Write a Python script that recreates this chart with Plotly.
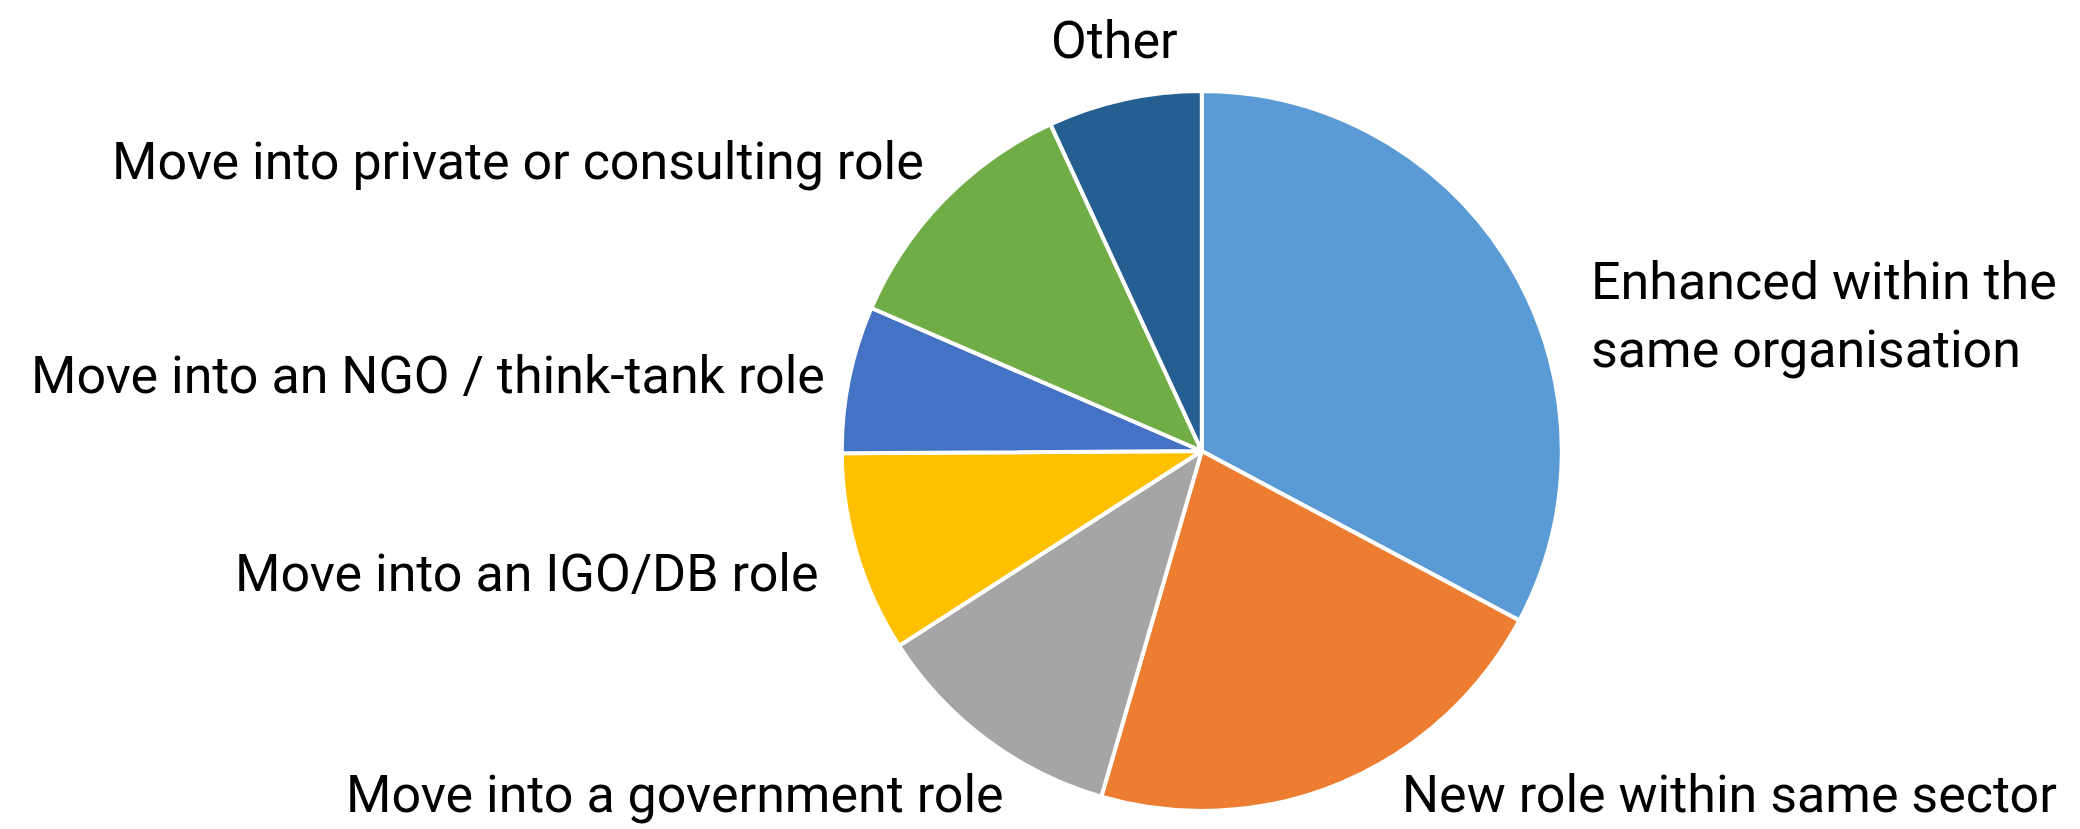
import plotly.graph_objects as go

# Share of respondents by career outcome (%)
LABELS = [
    "Enhanced within the<br>same organisation",
    "New role within same sector",
    "Move into a government role",
    "Move into an IGO/DB role",
    "Move into an NGO / think-tank role",
    "Move into private or consulting role",
    "Other",
]
VALUES = [32.8, 21.7, 11.4, 9.0, 6.6, 11.6, 6.9]
COLORS = ["#5B9BD5", "#ED7D31", "#A5A5A5", "#FFC000", "#4472C4", "#70AD47", "#255E91"]

# Where each category label sits around the pie (paper coords + anchor),
# mimicking the original spreadsheet "best fit" placement
LABEL_SPOTS = [
    (0.7631, 0.6252, "left"),
    (0.6716, 0.0426, "left"),
    (0.4815, 0.0426, "right"),
    (0.3925, 0.3117, "right"),
    (0.3951, 0.5525, "right"),
    (0.4431, 0.8127, "right"),
    (0.5339, 0.9600, "center"),
]

fig = go.Figure(
    go.Pie(
        labels=LABELS,
        values=VALUES,
        sort=False,
        direction="clockwise",
        rotation=0,
        marker={"colors": COLORS, "line": {"color": "white", "width": 4}},
        textinfo="none",
        showlegend=False,
        domain={"x": [0.4024, 0.7499], "y": [0.0219, 0.8989]},
        hoverinfo="label+percent",
    )
)

for label, (x, y, anchor) in zip(LABELS, LABEL_SPOTS):
    fig.add_annotation(
        text=label,
        x=x,
        y=y,
        xref="paper",
        yref="paper",
        xanchor=anchor,
        yanchor="middle",
        align="left",
        showarrow=False,
        font={"family": "Roboto", "size": 52, "color": "black"},
    )

# page body has an 8px margin, so the figure is 8px smaller than the window
fig.update_layout(
    width=2072,
    height=821,
    margin={"l": 0, "r": 0, "t": 0, "b": 0},
    paper_bgcolor="white",
    font={"family": "Roboto", "color": "black"},
)

fig.write_html("out.html")
